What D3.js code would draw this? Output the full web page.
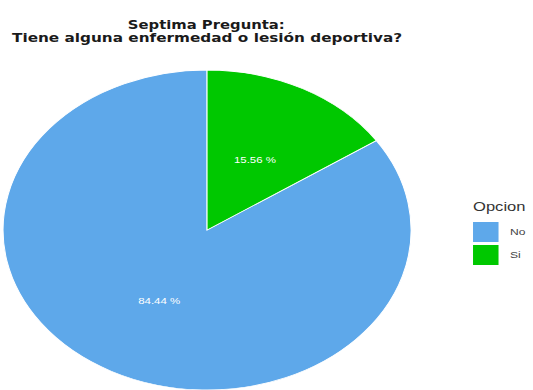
<!DOCTYPE html>
<html>
<head>
<meta charset="utf-8">
<script src="https://cdn.jsdelivr.net/npm/d3@7"></script>
<style>
  html, body { margin: 0; padding: 0; background: #fff; }
  svg { display: block; }
  text { font-family: "Liberation Sans", Arial, sans-serif; }
  text.title { font-family: "DejaVu Sans", Verdana, sans-serif; font-weight: bold; }
</style>
</head>
<body>
<svg id="chart" width="533" height="390"></svg>
<script>
// Septima pregunta: answer shares (%)
const categories = ["No", "Si"];
const values = [84.44, 15.56];
const colors = ["#5EA8EA", "#00C800"];
const titleLines = ["Septima Pregunta:", "Tiene alguna enfermedad o lesión deportiva?"];
const legendTitle = "Opcion";

const sx = 1.275; // horizontal stretch of the plotted figure
const svg = d3.select("#chart");
const g = svg.append("g").attr("transform", `scale(${sx},1)`);

const data = categories.map((c, i) => ({ cat: c, value: values[i] }));

// Pie: Si slice starts at 12 o'clock going clockwise, then No
const pie = d3.pie()
  .value(d => d.value)
  .sort((a, b) => d3.descending(a.cat, b.cat));
const radius = 160;
const arc = d3.arc().innerRadius(0).outerRadius(radius);
const color = d3.scaleOrdinal().domain(categories).range(colors);

const pg = g.append("g").attr("transform", `translate(162.4,230)`);
pg.selectAll("path")
  .data(pie(data))
  .join("path")
  .attr("d", arc)
  .attr("fill", d => color(d.data.cat))
  .attr("stroke", "#ffffff")
  .attr("stroke-width", 0.8);

pg.selectAll("text")
  .data(pie(data))
  .join("text")
  .attr("transform", d => `translate(${arc.centroid(d)})`)
  .attr("text-anchor", "middle")
  .attr("dy", "0.35em")
  .attr("fill", "#ffffff")
  .attr("font-size", 9)
  .text(d => d3.format(".2f")(d.data.value) + " %");

// Title
const title = g.append("g").attr("fill", "#1a1a1a");
title.append("text")
  .attr("class", "title")
  .attr("x", 161.8).attr("y", 29)
  .attr("text-anchor", "middle")
  .attr("font-size", 11.5)
  .attr("textLength", 123).attr("lengthAdjust", "spacingAndGlyphs")
  .text(titleLines[0]);
title.append("text")
  .attr("class", "title")
  .attr("x", 162.4).attr("y", 42)
  .attr("text-anchor", "middle")
  .attr("font-size", 11.5)
  .attr("textLength", 306).attr("lengthAdjust", "spacingAndGlyphs")
  .text(titleLines[1]);

// Legend
const lg = g.append("g").attr("transform", "translate(371,0)");
lg.append("text")
  .attr("x", 0).attr("y", 211)
  .attr("font-size", 13)
  .attr("fill", "#333")
  .text(legendTitle);
const key = lg.selectAll("g.key")
  .data(categories)
  .join("g")
  .attr("class", "key")
  .attr("transform", (d, i) => `translate(0,${222 + i * 23})`);
key.append("rect")
  .attr("width", 20).attr("height", 20)
  .attr("fill", d => color(d));
key.append("text")
  .attr("x", 29).attr("y", 10)
  .attr("dy", "0.35em")
  .attr("font-size", 9.5)
  .attr("fill", "#444")
  .text(d => d);
</script>
</body>
</html>
